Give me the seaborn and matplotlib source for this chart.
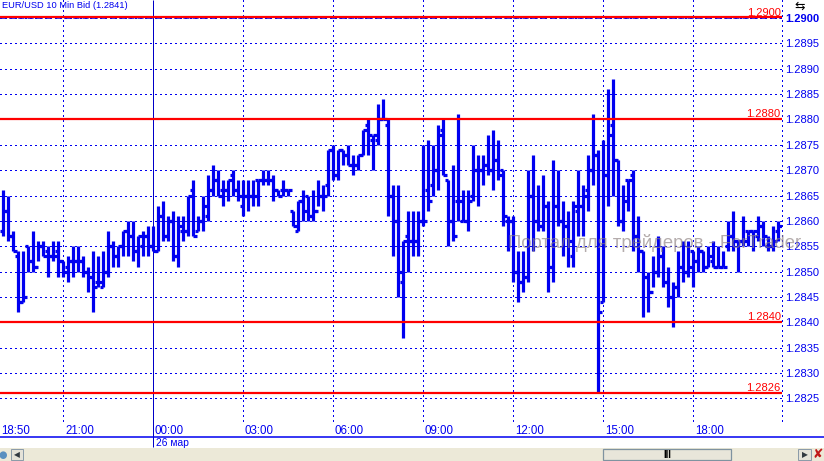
import matplotlib
matplotlib.use("Agg")
import matplotlib.pyplot as plt
from matplotlib.lines import Line2D
from matplotlib.patches import Rectangle
import pandas as pd
import seaborn as sns

# prices given as pips above 1.0000 (2866 -> 1.2866)
highs = [
    2866, 2865, 2858, 2854, 2854, 2855, 2858, 2856, 2856, 2855,
    2856, 2856, 2852, 2853, 2855, 2855, 2853, 2851, 2854, 2853,
    2854, 2858, 2856, 2855, 2858, 2860, 2860, 2857, 2858, 2859,
    2859, 2863, 2864, 2861, 2862, 2861, 2861, 2865, 2868, 2861,
    2865, 2869, 2871, 2870, 2868, 2868, 2870, 2868, 2868, 2868,
    2868, 2868, 2870, 2870, 2869, 2866, 2868, 2866, 2862, 2864,
    2866, 2865, 2866, 2868, 2867, 2874, 2875, 2874, 2874, 2875,
    2873, 2873, 2878, 2880, 2877, 2883, 2884, 2880, 2867, 2867,
    2856, 2862, 2862, 2862, 2875, 2876, 2875, 2879, 2880, 2868,
    2871, 2881, 2866, 2866, 2875, 2873, 2873, 2877, 2878, 2876,
    2870, 2861, 2861, 2854, 2854, 2870, 2873, 2867, 2869, 2864,
    2872, 2870, 2864, 2862, 2864, 2870, 2867, 2873, 2881, 2874,
    2876, 2886, 2888, 2872, 2867, 2868, 2870, 2861, 2854, 2850,
    2853, 2857, 2855, 2851, 2848, 2854, 2856, 2856, 2854, 2855,
    2854, 2855, 2856, 2855, 2854, 2860, 2862, 2856, 2861, 2858,
    2858, 2861, 2860, 2857, 2859, 2860,
]
lows = [
    2857, 2856, 2854, 2842, 2844, 2850, 2850, 2852, 2853, 2849,
    2852, 2849, 2849, 2848, 2849, 2850, 2849, 2846, 2842, 2847,
    2847, 2849, 2851, 2851, 2853, 2853, 2852, 2851, 2853, 2853,
    2854, 2854, 2856, 2856, 2852, 2851, 2856, 2857, 2857, 2858,
    2858, 2860, 2865, 2865, 2863, 2864, 2865, 2864, 2861, 2862,
    2863, 2863, 2867, 2867, 2864, 2865, 2865, 2865, 2859, 2858,
    2860, 2860, 2860, 2863, 2862, 2865, 2868, 2868, 2871, 2871,
    2869, 2870, 2873, 2873, 2870, 2875, 2880, 2861, 2853, 2845,
    2837, 2850, 2853, 2853, 2859, 2862, 2865, 2866, 2869, 2855,
    2856, 2860, 2860, 2858, 2864, 2863, 2867, 2869, 2866, 2868,
    2859, 2854, 2848, 2844, 2846, 2848, 2854, 2858, 2858, 2846,
    2848, 2859, 2853, 2851, 2851, 2857, 2857, 2862, 2867, 2826,
    2844, 2863, 2865, 2859, 2858, 2862, 2854, 2850, 2841, 2842,
    2847, 2849, 2847, 2843, 2839, 2845, 2848, 2849, 2847, 2850,
    2850, 2851, 2851, 2851, 2851, 2854, 2854, 2850, 2855, 2855,
    2854, 2856, 2855, 2854, 2854, 2856,
]
opens = [
    2858, 2862, 2857, 2853, 2844, 2855, 2852, 2851, 2855, 2854,
    2853, 2854, 2852, 2851, 2852, 2852, 2852, 2850, 2849, 2848,
    2847, 2850, 2855, 2853, 2855, 2858, 2857, 2854, 2855, 2857,
    2855, 2854, 2861, 2857, 2860, 2853, 2858, 2858, 2866, 2858,
    2860, 2861, 2866, 2868, 2866, 2866, 2869, 2866, 2863, 2865,
    2865, 2868, 2868, 2868, 2868, 2866, 2866, 2866, 2862, 2858,
    2864, 2865, 2861, 2862, 2865, 2867, 2874, 2869, 2874, 2873,
    2871, 2871, 2873, 2879, 2876, 2876, 2880, 2879, 2865, 2860,
    2848, 2857, 2856, 2856, 2860, 2866, 2867, 2870, 2878, 2868,
    2860, 2864, 2860, 2860, 2865, 2870, 2870, 2871, 2870, 2872,
    2870, 2860, 2860, 2850, 2848, 2849, 2865, 2860, 2859, 2863,
    2851, 2863, 2860, 2859, 2853, 2862, 2863, 2866, 2870, 2873,
    2844, 2869, 2879, 2872, 2860, 2868, 2869, 2857, 2854, 2849,
    2846, 2850, 2853, 2848, 2845, 2847, 2851, 2850, 2854, 2852,
    2854, 2851, 2852, 2851, 2851, 2855, 2857, 2856, 2856, 2858,
    2858, 2857, 2859, 2855, 2855, 2858,
]
closes = [
    2862, 2857, 2854, 2844, 2845, 2852, 2851, 2855, 2853, 2853,
    2853, 2852, 2850, 2852, 2852, 2852, 2850, 2849, 2847, 2848,
    2850, 2855, 2853, 2855, 2858, 2857, 2854, 2857, 2857, 2855,
    2854, 2861, 2857, 2860, 2853, 2859, 2858, 2865, 2857, 2860,
    2863, 2866, 2868, 2865, 2866, 2868, 2866, 2865, 2865, 2865,
    2865, 2868, 2868, 2868, 2866, 2865, 2866, 2866, 2859, 2864,
    2862, 2861, 2862, 2865, 2865, 2874, 2869, 2874, 2873, 2871,
    2871, 2873, 2878, 2877, 2877, 2880, 2880, 2865, 2860, 2850,
    2856, 2856, 2856, 2860, 2860, 2864, 2870, 2877, 2869, 2860,
    2857, 2864, 2860, 2864, 2870, 2870, 2871, 2870, 2872, 2869,
    2861, 2860, 2850, 2848, 2849, 2865, 2860, 2859, 2863, 2851,
    2863, 2860, 2859, 2856, 2863, 2863, 2865, 2870, 2873, 2842,
    2869, 2877, 2872, 2860, 2864, 2868, 2857, 2854, 2849, 2846,
    2850, 2853, 2848, 2845, 2847, 2851, 2850, 2851, 2852, 2854,
    2851, 2853, 2851, 2851, 2851, 2857, 2856, 2856, 2856, 2858,
    2858, 2859, 2857, 2855, 2856, 2859,
]

time_labels = ["21:00", "00:00", "03:00", "06:00", "09:00", "12:00", "15:00", "18:00"]
time_bars = [12, 30, 48, 66, 84, 102, 120, 138]
price_ticks = [1.2825, 1.2830, 1.2835, 1.2840, 1.2845, 1.2850, 1.2855, 1.2860,
               1.2865, 1.2870, 1.2875, 1.2880, 1.2885, 1.2890, 1.2895, 1.2900]
levels = [1.2900, 1.2880, 1.2840, 1.2826]

BLUE = "#0000f0"
RED = "#ff0000"
W, H = 824, 461

sns.set_style("white")
plt.rcParams["font.family"] = ["Liberation Sans", "DejaVu Sans"]

# long tables, one unit per drawn stroke
bars = pd.DataFrame({"bar": range(len(highs)), "high": highs, "low": lows,
                     "open": opens, "close": closes})
rows = []
for r in bars.itertuples():
    rows.append(("s%d" % r.bar, r.bar, 1 + r.high / 1e4))
    rows.append(("s%d" % r.bar, r.bar, 1 + r.low / 1e4))
    rows.append(("o%d" % r.bar, r.bar - 0.7, 1 + r.open / 1e4))
    rows.append(("o%d" % r.bar, r.bar, 1 + r.open / 1e4))
    rows.append(("c%d" % r.bar, r.bar, 1 + r.close / 1e4))
    rows.append(("c%d" % r.bar, r.bar + 0.7, 1 + r.close / 1e4))
strokes = pd.DataFrame(rows, columns=["stroke", "x", "price"])

fig = plt.figure(figsize=(W / 100, H / 100), dpi=100)
ax = fig.add_axes([0, 1 - 436.5 / H, 782 / W, 436.5 / H])

dots = (0, (1.3, 2.7))
ax.set_yticks(price_ticks)
ax.yaxis.grid(True, color=BLUE, lw=0.85, ls=dots, zorder=1, antialiased=False)
ax.xaxis.grid(False)

x_frac = ax.get_xaxis_transform()
grid_bottom = (436.5 - 421) / 436.5
ax.vlines([b for b in time_bars if b != 30], grid_bottom, 1, transform=x_frac,
          colors=BLUE, lw=0.85, ls=dots, zorder=1, antialiased=False)
ax.vlines(155.7, grid_bottom, 1, transform=x_frac, colors=BLUE, lw=0.85, ls=dots,
          zorder=1, clip_on=False, antialiased=False)
ax.vlines(30, -10.5 / 436.5, 1, transform=x_frac, colors="#0000c8", lw=0.72,
          zorder=1, clip_on=False)

sns.lineplot(data=strokes, x="x", y="price", units="stroke", estimator=None,
             color=BLUE, lw=2.3, solid_capstyle="butt", sort=False, legend=False,
             errorbar=None, zorder=3, ax=ax)

ax.hlines(1.2900, 0, 1, transform=ax.get_yaxis_transform(), colors=BLUE, lw=1.1,
          ls=(0, (4, 2)), zorder=2)
for level in levels:
    ax.axhline(level + (0.00002 if level == 1.2900 else 0), color=RED, lw=1.6, zorder=4)
    ax.annotate("%.4f" % level, (1, level), xycoords=ax.get_yaxis_transform(),
                xytext=(-1, 0), textcoords="offset points", ha="right", va="bottom",
                color=RED, fontsize=8, zorder=5)

ax.set_xlim(-0.66, 155.74)
ax.set_ylim(1.28175, 1.290355)
ax.set_xlabel("")
ax.set_ylabel("")
ax.set_xticks([])
ax.yaxis.tick_right()
ax.set_yticklabels(["%.4f" % p for p in price_ticks], color=BLUE, fontsize=8)
ax.tick_params(axis="y", length=0, pad=2.2)
ax.get_yticklabels()[-1].set_fontweight("bold")
for side in ax.spines.values():
    side.set_visible(False)

# time labels sit inside the plot area, under the grid
ax.annotate("18:50", (0, 6 / 436.5), xycoords="axes fraction", xytext=(0.6, 0),
            textcoords="offset points", color=BLUE, fontsize=8.3, va="center")
for b, lab in zip(time_bars, time_labels):
    ax.annotate(lab, (b, 6 / 436.5), xycoords=x_frac, xytext=(1.2, 0),
                textcoords="offset points", color=BLUE, fontsize=8.3, va="center",
                zorder=5)
ax.annotate("26 мар", (30, -6.5 / 436.5), xycoords=x_frac, xytext=(1.6, 0),
            textcoords="offset points", color=BLUE, fontsize=7.4, va="center",
            annotation_clip=False)
ax.text(2 / 782, 1 - 5 / 436.5, "EUR/USD 10 Min Bid (1.2841)", transform=ax.transAxes,
        color=BLUE, fontsize=6.7, va="center", zorder=5)

# watermark runs over the marks and is cut by the window edge
fig.text(508 / W, 1 - 243 / H, "Портал для трейдеров - ForTrader", color="#8c8080",
         alpha=0.65, fontsize=13.3, va="center", zorder=6)

# window furniture below and above the chart
fig.add_artist(Line2D([0, 1], [1 - 436.5 / H] * 2, color=BLUE, lw=1.1))
fig.add_artist(Rectangle((0, 0), 1, 13 / H, color="#ece9d8", lw=0))
for x0, x1 in [(11, 23), (798, 811)]:
    fig.add_artist(Rectangle((x0 / W, 1 / H), (x1 - x0) / W, 11 / H, fc="#e4e2d8",
                             ec="#8a9aa8", lw=0.7))
fig.add_artist(Rectangle((603 / W, 1 / H), 128 / W, 11 / H, fc="#e8e6da",
                         ec="#7f93a0", lw=0.9))
fig.text(667 / W, 6.5 / H, "III", color="black", fontsize=7, ha="center", va="center",
         fontweight="bold")
fig.text(17 / W, 6.5 / H, "◀", color="#303840", fontsize=5.5, ha="center", va="center",
         family="DejaVu Sans")
fig.text(805 / W, 6.5 / H, "▶", color="#303840", fontsize=5.5, ha="center", va="center",
         family="DejaVu Sans")
fig.text(818 / W, 6.5 / H, "✘", color="#c01818", fontsize=9, ha="center", va="center",
         family="DejaVu Sans")
fig.text(3 / W, 6.5 / H, "●", color="#5a90c0", fontsize=7, ha="center", va="center",
         family="DejaVu Sans")
fig.text(800 / W, 1 - 6.5 / H, "⇆", color="black", fontsize=9, ha="center", va="center",
         family="DejaVu Sans")

fig.savefig("out.png", dpi=100)
